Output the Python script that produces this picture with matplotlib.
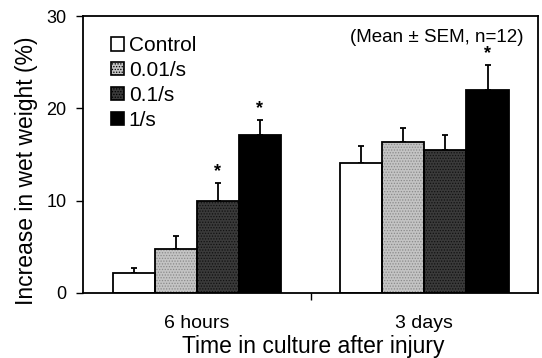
import numpy as np
import matplotlib.pyplot as plt
from matplotlib.patches import Patch

plt.rcParams['font.family'] = ['Liberation Sans', 'DejaVu Sans']
plt.rcParams['hatch.linewidth'] = 0.6

groups = ["6 hours", "3 days"]
series = ["Control", "0.01/s", "0.1/s", "1/s"]
means = {
    "Control": [2.1, 14.1],
    "0.01/s": [4.8, 16.4],
    "0.1/s": [10.0, 15.5],
    "1/s": [17.1, 22.0],
}
sems = {
    "Control": [0.6, 1.8],
    "0.01/s": [1.4, 1.5],
    "0.1/s": [1.9, 1.6],
    "1/s": [1.6, 2.7],
}
significant = {
    "Control": [False, False],
    "0.01/s": [False, False],
    "0.1/s": [True, False],
    "1/s": [True, True],
}

face = {"Control": "white", "0.01/s": "#c4c4c4", "0.1/s": "#3a3a3a", "1/s": "black"}
hatch = {"Control": None, "0.01/s": "......", "0.1/s": "......", "1/s": None}
hcol = {"Control": "black", "0.01/s": "#8a8a8a", "0.1/s": "#111111", "1/s": "black"}

fig, ax = plt.subplots(figsize=(5.42, 3.58), dpi=100)
fig.subplots_adjust(left=0.153, right=0.993, top=0.955, bottom=0.182)

x = np.arange(len(groups))
width = 0.185
for i, s in enumerate(series):
    pos = x + (i - 1.5) * width
    ax.bar(pos, means[s], width, color=face[s], edgecolor=hcol[s], hatch=hatch[s],
           linewidth=0, zorder=2)
    ax.bar(pos, means[s], width, color='none', edgecolor='black', linewidth=1.3, zorder=3)
    ax.errorbar(pos, means[s], yerr=[np.zeros(2), sems[s]], fmt='none', ecolor='black',
                elinewidth=1.3, capsize=2, capthick=1.3, zorder=1)
    for p, m, e, sig in zip(pos, means[s], sems[s], significant[s]):
        if sig:
            ax.text(p, m + e + 0.3, "*", ha='center', va='bottom', fontsize=13, fontweight='bold')

ax.set_xlim(-0.5, 1.5)
ax.set_ylim(0, 30)
ax.set_yticks([0, 10, 20, 30])
ax.set_xticks([0.5])
ax.set_xticklabels([])
ax.tick_params(axis='x', direction='out', length=5, width=1)
ax.tick_params(axis='y', direction='out', length=5, width=1, labelsize=13, pad=7)
for xi, g in zip(x, groups):
    ax.text(xi, -2.4, g, ha='center', va='top', fontsize=14)
fig.text(0.578, 1 - 347 / 358, "Time in culture after injury", ha='center', va='center', fontsize=16.5)
fig.text(27 / 542, 1 - 171 / 358, "Increase in wet weight (%)", ha='center', va='center',
         rotation=90, fontsize=16.5)
for sp in ax.spines.values():
    sp.set_linewidth(1.3)

ax.text(0.968, 0.955, "(Mean \u00b1 SEM, n=12)", transform=ax.transAxes, ha='right', va='top', fontsize=13.5)

handles = [Patch(facecolor=face[s], edgecolor='black', hatch=hatch[s], linewidth=1.2) for s in series]
ax.legend(handles, series, loc='upper left', bbox_to_anchor=(0.062, 0.927), frameon=False,
          fontsize=15, handlelength=0.6, handleheight=0.6, handletextpad=0.25,
          labelspacing=0.28, borderaxespad=0, borderpad=0)

fig.savefig("out.png", dpi=100)
